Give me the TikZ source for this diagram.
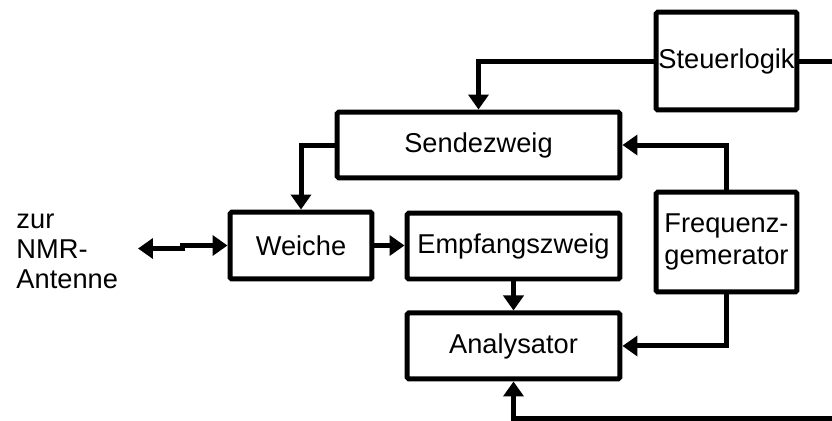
\documentclass[tikz,border=0pt]{standalone}
\usepackage{fontspec}
\setmainfont{Liberation Sans}
\usepackage{tikz}
\usetikzlibrary{positioning,arrows.meta,calc}

\begin{document}
\begin{tikzpicture}[x=0.02cm, y=-0.02cm, >={Triangle[length=0.3cm, width=0.4cm]},
  line width=0.1cm, font=\fontsize{15.5}{18.5}\selectfont,
  block/.style={draw, rectangle, rounded corners=1pt, inner sep=0pt, align=center}]
\path[use as bounding box, clip] (0,0) rectangle (832,420);

\node[block, minimum width=2.82cm, minimum height=1.96cm] (steuer) at (726.5,61) {Steuerlogik};
\node[block, minimum width=5.66cm, minimum height=1.32cm] (sende) at (478.5,145) {Sendezweig};
\node[block, minimum width=2.84cm, minimum height=1.34cm] (weiche) at (301,245.5) {Weiche};
\node[block, minimum width=4.26cm, minimum height=1.32cm] (empf) at (513.5,246) {Empfangszweig};
\node[block, minimum width=4.26cm, minimum height=1.32cm, below=0.58cm of empf] (analys) {Analysator};
\node[block, minimum width=2.82cm, minimum height=2.0cm] (freq) at (726.5,242) {Frequenz-\\gemerator};

\node[anchor=west, align=left, inner sep=0pt, font=\fontsize{15.5}{17}\selectfont] (antenne) at (14,251) {zur\\NMR-\\Antenne};

\coordinate (ant) at (138,248.5);
\coordinate (rechts) at (860,418);

\draw[->] (steuer.west) -| (sende.north);
\draw[->] (steuer.east) -| (rechts) -| (analys.south);
\draw[->] (freq.north) |- (sende.east);
\draw[->] (freq.south) |- (analys.east);
\draw[->] (sende.west) -| (weiche.north);
\draw[->] (weiche.east) -- (weiche.east -| empf.west);
\draw[->] (empf) -- (analys);
\draw[<->] (ant) -- ++(44,0) |- (weiche.west);

\end{tikzpicture}
\end{document}
